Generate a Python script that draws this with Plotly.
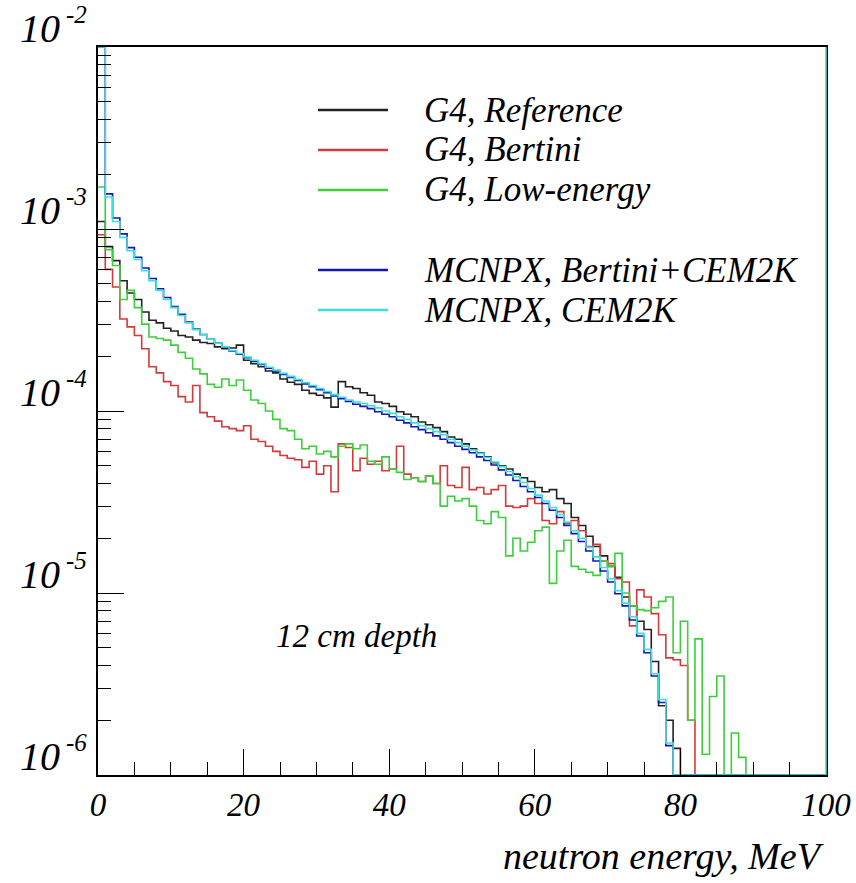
import numpy as np
import plotly.graph_objects as go

# ---------------- data (1 MeV bins starting at 0 MeV; bins after the list are empty) -------------
bin_width = 1.0
n_bins = 100

g4_reference = [
    1.1e-3, 8.0e-4, 6.7e-4, 5.2e-4, 4.45e-4, 4.1e-4, 3.5e-4, 3.15e-4, 3.05e-4, 2.85e-4,
    2.75e-4, 2.6e-4, 2.55e-4, 2.45e-4, 2.38e-4, 2.35e-4, 2.25e-4, 2.2e-4, 2.22e-4, 2.3e-4,
    1.9e-4, 1.82e-4, 1.75e-4, 1.66e-4, 1.62e-4, 1.5e-4, 1.44e-4, 1.4e-4, 1.3e-4, 1.25e-4,
    1.22e-4, 1.18e-4, 1.05e-4, 1.45e-4, 1.36e-4, 1.33e-4, 1.26e-4, 1.22e-4, 1.12e-4, 1.1e-4,
    1.06e-4, 9.9e-5, 9.6e-5, 9.3e-5, 8.7e-5, 8.4e-5, 8.1e-5, 7.7e-5, 7.2e-5, 7.0e-5,
    6.6e-5, 6.2e-5, 5.9e-5, 5.6e-5, 5.2e-5, 5.0e-5, 4.8e-5, 4.5e-5, 4.3e-5, 4.1e-5,
    3.8e-5, 3.6e-5, 3.7e-5, 3.3e-5, 3.1e-5, 2.6e-5, 2.35e-5, 2.05e-5, 1.8e-5, 1.6e-5,
    1.4e-5, 1.22e-5, 9.5e-6, 8.5e-6, 7.0e-6, 6.3e-6, 4.2e-6, 2.4e-6, 2.0e-6, 1.4e-6,
]

g4_bertini = [
    9.3e-4, 6.0e-4, 4.8e-4, 3.2e-4, 2.9e-4, 2.6e-4, 2.2e-4, 1.75e-4, 1.62e-4, 1.45e-4,
    1.38e-4, 1.2e-4, 1.12e-4, 1.38e-4, 9.8e-5, 9.3e-5, 8.8e-5, 8.2e-5, 8.0e-5, 7.8e-5,
    8.3e-5, 7.0e-5, 6.8e-5, 6.4e-5, 6.0e-5, 5.7e-5, 5.5e-5, 5.4e-5, 4.9e-5, 5.3e-5,
    4.5e-5, 5.0e-5, 3.6e-5, 6.6e-5, 6.3e-5, 4.7e-5, 5.5e-5, 5.1e-5, 5.3e-5, 4.7e-5,
    4.8e-5, 6.4e-5, 4.5e-5, 4.3e-5, 4.1e-5, 4.4e-5, 4.0e-5, 5.0e-5, 3.9e-5, 3.8e-5,
    4.9e-5, 3.7e-5, 3.8e-5, 3.5e-5, 3.7e-5, 3.9e-5, 3.0e-5, 2.95e-5, 3.0e-5, 3.3e-5,
    3.1e-5, 2.5e-5, 2.4e-5, 2.8e-5, 2.4e-5, 2.5e-5, 2.2e-5, 1.8e-5, 1.85e-5, 1.5e-5,
    1.45e-5, 1.2e-5, 1.15e-5, 6.6e-6, 1.04e-5, 9.5e-6, 7.7e-6, 5.9e-6, 4.4e-6, 4.3e-6,
    4.0e-6, 2.0e-6,
]

g4_low_energy = [
    1.7e-3, 7.7e-4, 6.3e-4, 4.1e-4, 4.6e-4, 3.7e-4, 3.0e-4, 2.55e-4, 2.5e-4, 2.45e-4,
    2.3e-4, 2.1e-4, 1.95e-4, 1.7e-4, 1.6e-4, 1.4e-4, 1.35e-4, 1.5e-4, 1.38e-4, 1.48e-4,
    1.3e-4, 1.15e-4, 1.1e-4, 1.0e-4, 9.0e-5, 8.0e-5, 7.8e-5, 7.0e-5, 6.2e-5, 6.4e-5,
    5.8e-5, 6.0e-5, 5.6e-5, 6.4e-5, 6.6e-5, 6.2e-5, 6.5e-5, 5.3e-5, 5.1e-5, 5.6e-5,
    4.8e-5, 4.6e-5, 4.2e-5, 4.3e-5, 4.1e-5, 4.4e-5, 4.0e-5, 3.0e-5, 3.4e-5, 3.2e-5,
    3.3e-5, 3.0e-5, 2.5e-5, 2.4e-5, 2.8e-5, 2.6e-5, 1.6e-5, 2.0e-5, 1.7e-5, 1.9e-5,
    2.2e-5, 2.3e-5, 1.13e-5, 1.7e-5, 1.95e-5, 1.4e-5, 1.35e-5, 1.3e-5, 1.25e-5, 1.5e-5,
    1.4e-5, 1.65e-5, 1.0e-5, 8.5e-6, 8.1e-6, 8.0e-6, 8.3e-6, 9.0e-6, 9.5e-6, 4.7e-6,
    7.0e-6, 2.0e-6, 5.6e-6, 1.3e-6, 2.7e-6, 3.5e-6, 0.0, 1.7e-6, 1.25e-6,
]

mcnpx_bertini_cem2k = [
    1.0e-2, 1.56e-3, 1.15e-3, 9.4e-4, 7.9e-4, 7.0e-4, 6.1e-4, 5.35e-4, 4.7e-4, 4.2e-4,
    3.75e-4, 3.4e-4, 3.08e-4, 2.82e-4, 2.63e-4, 2.48e-4, 2.36e-4, 2.24e-4, 2.14e-4, 2.05e-4,
    1.96e-4, 1.88e-4, 1.8e-4, 1.72e-4, 1.66e-4, 1.59e-4, 1.53e-4, 1.47e-4, 1.41e-4, 1.36e-4,
    1.31e-4, 1.26e-4, 1.21e-4, 1.17e-4, 1.13e-4, 1.09e-4, 1.06e-4, 1.03e-4, 9.9e-5, 9.6e-5,
    9.3e-5, 8.9e-5, 8.6e-5, 8.2e-5, 7.9e-5, 7.6e-5, 7.3e-5, 7.0e-5, 6.7e-5, 6.4e-5,
    6.15e-5, 5.9e-5, 5.6e-5, 5.35e-5, 5.05e-5, 4.75e-5, 4.45e-5, 4.15e-5, 3.85e-5, 3.6e-5,
    3.35e-5, 3.1e-5, 2.85e-5, 2.6e-5, 2.35e-5, 2.12e-5, 1.92e-5, 1.7e-5, 1.5e-5, 1.32e-5,
    1.15e-5, 9.9e-6, 8.5e-6, 7.1e-6, 5.8e-6, 4.7e-6, 3.5e-6, 2.5e-6, 1.45e-6,
]

mcnpx_cem2k = [
    1.0e-2, 1.5e-3, 1.1e-3, 9.0e-4, 7.6e-4, 6.8e-4, 5.9e-4, 5.2e-4, 4.6e-4, 4.1e-4,
    3.7e-4, 3.35e-4, 3.05e-4, 2.8e-4, 2.62e-4, 2.48e-4, 2.36e-4, 2.25e-4, 2.15e-4, 2.07e-4,
    1.98e-4, 1.9e-4, 1.82e-4, 1.74e-4, 1.68e-4, 1.61e-4, 1.55e-4, 1.49e-4, 1.43e-4, 1.38e-4,
    1.33e-4, 1.28e-4, 1.23e-4, 1.19e-4, 1.15e-4, 1.12e-4, 1.1e-4, 1.07e-4, 1.04e-4, 1.0e-4,
    9.7e-5, 9.3e-5, 9.0e-5, 8.6e-5, 8.3e-5, 8.0e-5, 7.7e-5, 7.4e-5, 7.0e-5, 6.7e-5,
    6.4e-5, 6.1e-5, 5.85e-5, 5.55e-5, 5.25e-5, 4.95e-5, 4.65e-5, 4.35e-5, 4.05e-5, 3.75e-5,
    3.45e-5, 3.2e-5, 2.95e-5, 2.7e-5, 2.45e-5, 2.2e-5, 2.0e-5, 1.78e-5, 1.58e-5, 1.38e-5,
    1.2e-5, 1.03e-5, 8.8e-6, 7.4e-6, 6.0e-6, 4.9e-6, 3.6e-6, 2.6e-6, 1.5e-6,
]

series_names = ["G4, Reference", "G4, Bertini", "G4, Low-energy",
                "MCNPX, Bertini+CEM2K", "MCNPX, CEM2K"]
series_values = [g4_reference, g4_bertini, g4_low_energy, mcnpx_bertini_cem2k, mcnpx_cem2k]
series_colors = ["#222222", "#d43a3a", "#3ccf3c", "#1515b0", "#3ddede"]

x_tick_values = [0, 20, 40, 60, 80, 100]
y_tick_exponents = [-2, -3, -4, -5, -6]

x_title = "neutron energy, MeV"
depth_label = "12 cm depth"

# ---------------- layout constants ----------------
W, H = 856, 883
FRAME_L, FRAME_R, FRAME_T, FRAME_B = 98, 826, 47, 775   # page pixels of the frame
L, T, R, B = FRAME_L, FRAME_T, W - FRAME_R, H - FRAME_B
pw, ph = FRAME_R - FRAME_L, FRAME_B - FRAME_T
FONT = "Liberation Serif"
y_floor = 1e-6  # ROOT draws empty bins on the bottom of the log frame


def px_to_paper_x(px):
    return (px - FRAME_L) / pw


def px_to_paper_y(py):
    return 1 - (py - FRAME_T) / ph


fig = go.Figure()
edges = np.arange(n_bins + 1) * bin_width
for name, vals, col in zip(series_names, series_values, series_colors):
    v = np.zeros(n_bins)
    v[:len(vals)] = vals
    v = np.where(v > 0, v, y_floor)
    fig.add_trace(go.Scatter(
        x=edges, y=np.append(v, v[-1]), mode="lines", line_shape="hv",
        line=dict(color=col, width=1.6), name=name, showlegend=False,
        hoverinfo="skip"))

shapes = []
annotations = []

# manual legend (ROOT style)
legend_rows_px = [110, 150, 190, 270, 310]
for name, col, ypx in zip(series_names, series_colors, legend_rows_px):
    yp = px_to_paper_y(ypx)
    shapes.append(dict(type="line", xref="paper", yref="paper",
                       x0=px_to_paper_x(318), x1=px_to_paper_x(388), y0=yp, y1=yp,
                       line=dict(color=col, width=2.5)))
    annotations.append(dict(text=name, xref="paper", yref="paper",
                            x=px_to_paper_x(422), y=yp, xanchor="left", yanchor="middle",
                            showarrow=False,
                            font=dict(family=FONT, size=35, style="italic", color="black")))

# right frame edge in cyan (as in the reference)
shapes.append(dict(type="line", xref="paper", yref="paper", x0=1, x1=1, y0=0, y1=1,
                   line=dict(color="#3ddede", width=1.5)))

# y tick labels: "10" with raised exponent
for e in y_tick_exponents:
    annotations.append(dict(text="10", xref="paper", yref="y", x=px_to_paper_x(62), y=e,
                            xanchor="right", yanchor="middle", yshift=19, showarrow=False,
                            font=dict(family=FONT, size=40, style="italic", color="black")))
    annotations.append(dict(text=str(e), xref="paper", yref="y", x=px_to_paper_x(64), y=e,
                            xanchor="left", yanchor="middle", yshift=33, showarrow=False,
                            font=dict(family=FONT, size=25, style="italic", color="black")))

annotations.append(dict(text=x_title, xref="paper", yref="paper", x=1.0,
                        y=px_to_paper_y(856), xanchor="right", yanchor="middle",
                        showarrow=False,
                        font=dict(family=FONT, size=38, style="italic", color="black")))
annotations.append(dict(text=depth_label, xref="paper", yref="paper", x=px_to_paper_x(274),
                        y=px_to_paper_y(636), xanchor="left", yanchor="middle",
                        showarrow=False,
                        font=dict(family=FONT, size=33, style="italic", color="black")))

fig.update_layout(
    width=W, height=H, margin=dict(l=L, r=R, t=T, b=B, autoexpand=False),
    plot_bgcolor="white", paper_bgcolor="white",
    shapes=shapes, annotations=annotations, showlegend=False,
)
fig.update_xaxes(
    range=[0, 100], tickvals=x_tick_values, ticktext=[str(v) for v in x_tick_values],
    ticks="inside", ticklen=26, tickcolor="black", tickwidth=1,
    minor=dict(ticks="inside", ticklen=13, dtick=5, tickcolor="black", tickwidth=1),
    showline=True, linecolor="black", linewidth=1.5, mirror=True,
    showgrid=False, zeroline=False, ticklabelstandoff=0,
    tickfont=dict(family=FONT, size=33, style="italic", color="black"),
)
fig.update_yaxes(
    type="log", range=[-6, -2], dtick=1,
    ticks="inside", ticklen=26, tickcolor="black", tickwidth=1,
    minor=dict(ticks="inside", ticklen=13, dtick="D1", tickcolor="black", tickwidth=1),
    showticklabels=False,
    showline=True, linecolor="black", linewidth=1.5, mirror=True,
    showgrid=False, zeroline=False,
)

# remove the browser's default 8 px body margin so the figure fills the window exactly
fig.write_html("out.html",
               config={"displayModeBar": False},
               post_script="document.body.style.margin='0px';"
                           "document.body.style.overflow='hidden';")
